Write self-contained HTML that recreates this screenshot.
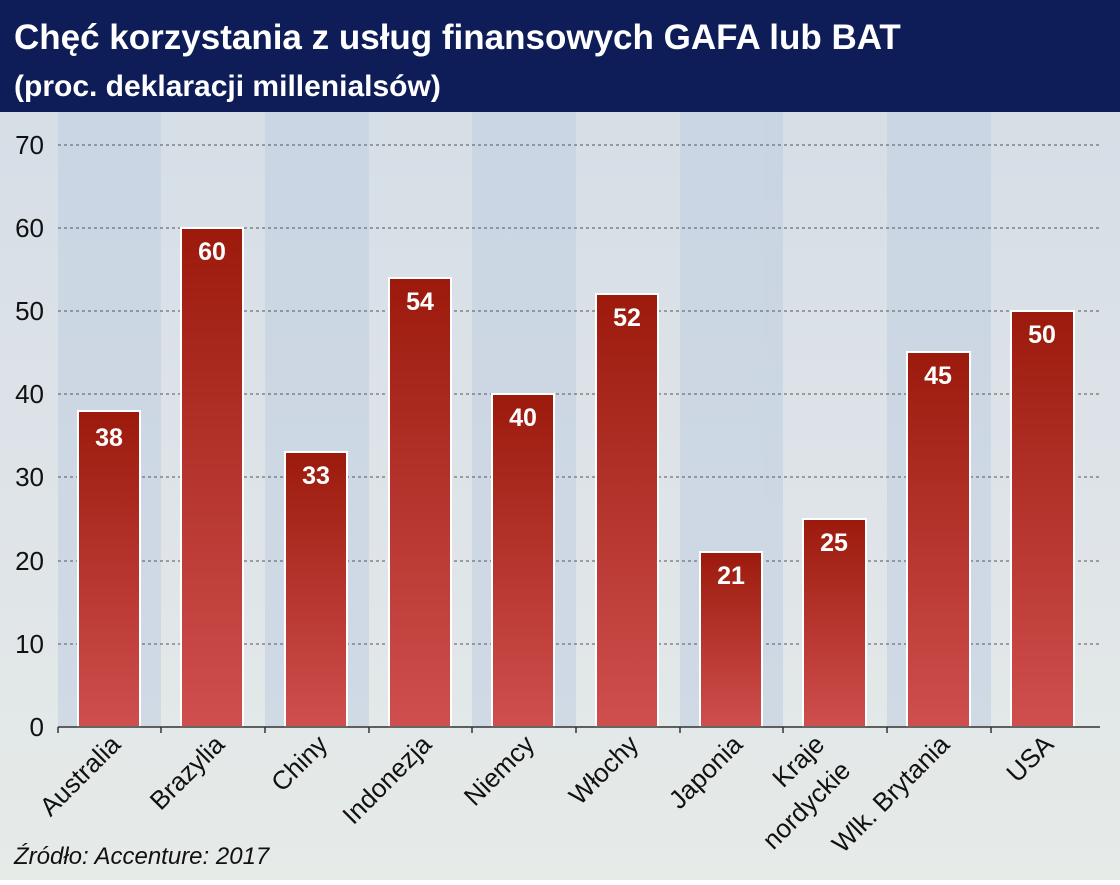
<!DOCTYPE html>
<html><head><meta charset="utf-8"><style>
body{margin:0;width:1120px;height:880px;overflow:hidden;font-family:"Liberation Sans",sans-serif;}
</style></head><body>
<svg width="1120" height="880" xmlns="http://www.w3.org/2000/svg" font-family="Liberation Sans, sans-serif">
<defs>
<linearGradient id="bg" x1="0" y1="0" x2="0" y2="1">
<stop offset="0" stop-color="#d3dce6"/><stop offset="0.6" stop-color="#dfe4e8"/><stop offset="1" stop-color="#e6ebe8"/></linearGradient>
<linearGradient id="bar" x1="0" y1="0" x2="0" y2="1">
<stop offset="0" stop-color="#9c1a0c"/><stop offset="1" stop-color="#cf4f4f"/></linearGradient>
</defs>
<rect width="1120" height="880" fill="url(#bg)"/>
<g fill="#c3d0e2" opacity="0.6">
<rect x="58" y="112" width="103" height="615"/><rect x="265" y="112" width="104" height="615"/>
<rect x="472" y="112" width="104" height="615"/><rect x="680" y="112" width="103" height="615"/>
<rect x="887" y="112" width="104" height="615"/>
</g>
<rect width="1120" height="112" fill="#0e1d58"/>
<text x="14" y="49" fill="#fff" font-size="35" font-weight="bold">Chęć korzystania z usług finansowych GAFA lub BAT</text>
<text x="14" y="96" fill="#fff" font-size="30" font-weight="bold">(proc. deklaracji millenialsów)</text>
<g stroke="#555" stroke-dasharray="3,3" stroke-width="1">
<line x1="58" x2="1100" y1="145" y2="145"/><line x1="58" x2="1100" y1="228" y2="228"/>
<line x1="58" x2="1100" y1="311" y2="311"/><line x1="58" x2="1100" y1="394" y2="394"/>
<line x1="58" x2="1100" y1="477" y2="477"/><line x1="58" x2="1100" y1="561" y2="561"/>
<line x1="58" x2="1100" y1="644" y2="644"/>
</g>
<g font-size="26" fill="#111" text-anchor="end">
<text x="44" y="154">70</text><text x="44" y="237">60</text><text x="44" y="320">50</text>
<text x="44" y="403">40</text><text x="44" y="486">30</text><text x="44" y="570">20</text>
<text x="44" y="653">10</text><text x="44" y="736">0</text>
</g>
<g fill="url(#bar)" stroke="#fff" stroke-width="2">
<rect x="78" y="411" width="62" height="316"/>
<rect x="181" y="228" width="62" height="499"/>
<rect x="285" y="452" width="62" height="275"/>
<rect x="389" y="278" width="62" height="449"/>
<rect x="492" y="394" width="62" height="333"/>
<rect x="596" y="294" width="62" height="433"/>
<rect x="700" y="552" width="62" height="175"/>
<rect x="803" y="519" width="63" height="208"/>
<rect x="907" y="352" width="63" height="375"/>
<rect x="1011" y="311" width="63" height="416"/>
</g>
<g font-size="25" font-weight="bold" fill="#fff" text-anchor="middle">
<text x="109" y="446">38</text><text x="212" y="260">60</text><text x="316" y="484">33</text>
<text x="420" y="310">54</text><text x="523" y="426">40</text><text x="627" y="326">52</text>
<text x="731" y="584">21</text><text x="834" y="551">25</text><text x="938" y="384">45</text>
<text x="1042" y="343">50</text>
</g>
<line x1="58" x2="1100" y1="727" y2="727" stroke="#333" stroke-width="1.5"/>
<g stroke="#333" stroke-width="1.5">
<line x1="58" x2="58" y1="727" y2="733"/><line x1="161" x2="161" y1="727" y2="733"/>
<line x1="265" x2="265" y1="727" y2="733"/><line x1="369" x2="369" y1="727" y2="733"/>
<line x1="472" x2="472" y1="727" y2="733"/><line x1="576" x2="576" y1="727" y2="733"/>
<line x1="680" x2="680" y1="727" y2="733"/><line x1="783" x2="783" y1="727" y2="733"/>
<line x1="887" x2="887" y1="727" y2="733"/><line x1="991" x2="991" y1="727" y2="733"/>
</g>
<g font-size="26" fill="#111" text-anchor="end">
<text transform="translate(122,746) rotate(-45)">Australia</text>
<text transform="translate(226,746) rotate(-45)">Brazylia</text>
<text transform="translate(329,746) rotate(-45)">Chiny</text>
<text transform="translate(433,746) rotate(-45)">Indonezja</text>
<text transform="translate(536,746) rotate(-45)">Niemcy</text>
<text transform="translate(640,746) rotate(-45)">Włochy</text>
<text transform="translate(744,746) rotate(-45)">Japonia</text>
<text transform="translate(826,746) rotate(-45)">Kraje</text>
<text transform="translate(852,772) rotate(-45)">nordyckie</text>
<text transform="translate(951,746) rotate(-45)">Wlk. Brytania</text>
<text transform="translate(1055,746) rotate(-45)">USA</text>
</g>
<text x="14" y="864" font-size="24" font-style="italic" fill="#111">Źródło: Accenture: 2017</text>
</svg>
</body></html>
